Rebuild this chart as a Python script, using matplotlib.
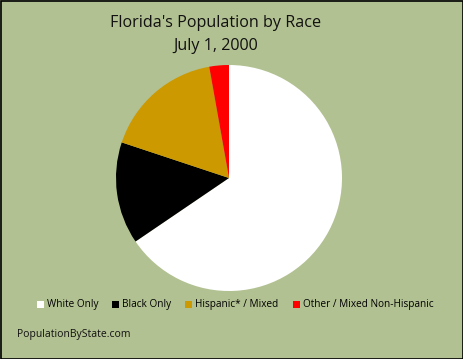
#!/usr/bin/env python3
import matplotlib
matplotlib.use('Agg')
import matplotlib.pyplot as plt
from matplotlib.patches import Rectangle, Patch

labels = ['White Only', 'Black Only', 'Hispanic* / Mixed', 'Other / Mixed Non-Hispanic']
shares = [65.5, 14.6, 17.1, 2.8]
colors = ['#FFFFFF', '#000000', '#CC9900', '#FF0000']
bg = '#B2C191'

plt.rcParams['font.family'] = ['Open Sans', 'DejaVu Sans']

fig = plt.figure(figsize=(4.64, 3.59), dpi=100)
fig.patch.set_facecolor(bg)

# pie area, centred about (229, 178) px with radius ~113 px
ax = fig.add_axes([116 / 464, 1 - 291 / 359, 226 / 464, 226 / 359])
ax.pie(shares, colors=colors, startangle=90, counterclock=False, radius=1.0)
ax.set_xlim(-1, 1)
ax.set_ylim(-1, 1)
ax.set_aspect('equal')
ax.axis('off')

fig.text(216 / 464, 1 - 23 / 359, "Florida's Population by Race", ha='center', va='center',
         fontsize=11.6, color='#111111')
fig.text(216 / 464, 1 - 46 / 359, "July 1, 2000", ha='center', va='center',
         fontsize=11.6, color='#111111')

handles = [Patch(facecolor=c, edgecolor='none') for c in colors]
fig.legend(handles, labels, loc='center', bbox_to_anchor=(235 / 464, 1 - 305 / 359), ncol=4,
           frameon=False, fontsize=7.2, handlelength=0.7, handleheight=0.7, handletextpad=0.3,
           columnspacing=1.4, borderaxespad=0)

fig.text(17 / 464, 1 - 335 / 359, 'PopulationByState.com', ha='left', va='center',
         fontsize=7.5, color='#111111')

fig.patches.append(Rectangle((0.5 / 464, 0.5 / 359), 1 - 1.5 / 464, 1 - 1.5 / 359,
                             transform=fig.transFigure, fill=False,
                             edgecolor='black', linewidth=1.2))

plt.savefig('out.png', dpi=100, facecolor=bg)
plt.close(fig)
